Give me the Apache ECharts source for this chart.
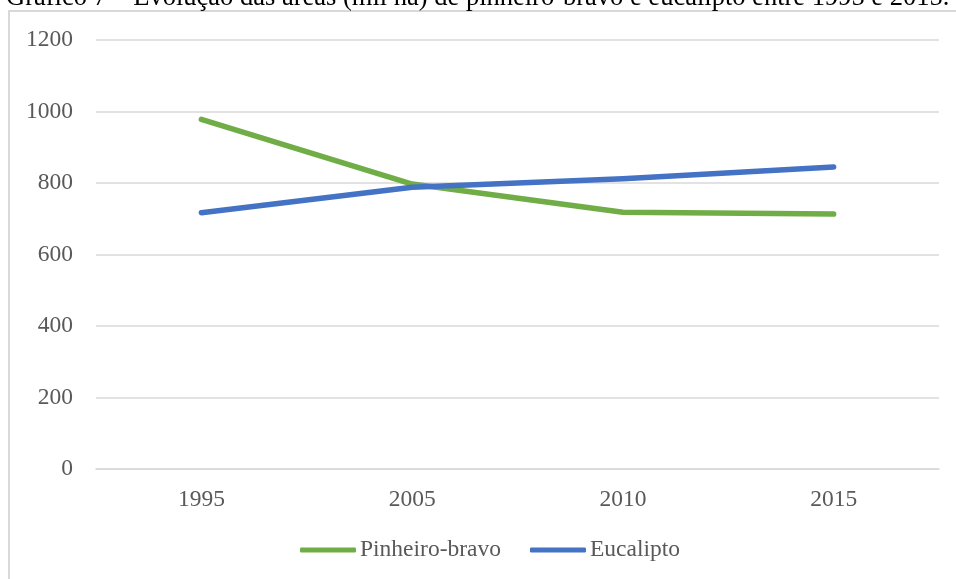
<!DOCTYPE html>
<html>
<head>
<meta charset="utf-8">
<script src="https://cdn.jsdelivr.net/npm/echarts@6/dist/echarts.min.js"></script>
<style>
  html, body { margin: 0; padding: 0; background: #fff; }
  #chart { width: 956px; height: 579px; }
</style>
</head>
<body>
<div id="chart"></div>
<script>
// Áreas (mil ha) por ano de inventário
const anos = ['1995', '2005', '2010', '2015'];
const pinheiroBravo = [978, 797, 718, 713];
const eucalipto = [717, 788, 812, 845];
const yTicks = [0, 200, 400, 600, 800, 1000, 1200];

const tituloTexto = 'Gráfico 7 – Evolução das áreas (mil ha) de pinheiro-bravo e eucalipto entre 1995 e 2015.';
const fonte = 'Liberation Serif';
const corTexto = '#595959';
const tamanho = 23.5;

const chart = echarts.init(document.getElementById('chart'), null, { renderer: 'canvas' });

chart.setOption({
  animation: false,
  backgroundColor: '#ffffff',
  textStyle: { fontFamily: fonte },
  graphic: [
    {
      type: 'text',
      x: 6,
      y: -2,
      style: {
        text: tituloTexto,
        font: '26.5px "Liberation Serif"',
        fill: '#000000',
        verticalAlign: 'middle',
        align: 'left'
      },
      z: 10
    },
    {
      type: 'rect',
      shape: { x: 9, y: 11, width: 1000, height: 700 },
      style: { fill: 'none', stroke: '#d9d9d9', lineWidth: 2 },
      z: 0
    }
  ],
  legend: {
    bottom: 12,
    left: 295,
    itemWidth: 56,
    itemHeight: 5,
    itemGap: 29,
    icon: 'roundRect',
    textStyle: { fontFamily: fonte, fontSize: tamanho, color: corTexto, padding: [0, 0, 0, -1] },
    data: ['Pinheiro-bravo', 'Eucalipto']
  },
  grid: { left: 96, right: 17, top: 40, bottom: 110, containLabel: false },
  xAxis: {
    type: 'category',
    data: anos,
    boundaryGap: true,
    axisLine: { show: true, lineStyle: { color: '#d9d9d9', width: 1.5 } },
    axisTick: { show: false },
    axisLabel: { fontFamily: fonte, fontSize: tamanho, color: corTexto, margin: 19 },
    splitLine: { show: false }
  },
  yAxis: {
    type: 'value',
    min: yTicks[0],
    max: yTicks[yTicks.length - 1],
    interval: yTicks[1] - yTicks[0],
    axisLine: { show: false },
    axisTick: { show: false },
    axisLabel: {
      fontFamily: fonte, fontSize: tamanho, color: corTexto, margin: 23,
      formatter: (v) => String(v)
    },
    splitLine: { lineStyle: { color: '#d9d9d9', width: 1.5 } }
  },
  series: [
    {
      name: 'Pinheiro-bravo',
      type: 'line',
      data: pinheiroBravo,
      symbol: 'none',
      lineStyle: { color: '#70ad47', width: 5.5, cap: 'round', join: 'round' },
      itemStyle: { color: '#70ad47' },
      z: 3
    },
    {
      name: 'Eucalipto',
      type: 'line',
      data: eucalipto,
      symbol: 'none',
      lineStyle: { color: '#4472c4', width: 5.5, cap: 'round', join: 'round' },
      itemStyle: { color: '#4472c4' },
      z: 4
    }
  ]
});
</script>
</body>
</html>
